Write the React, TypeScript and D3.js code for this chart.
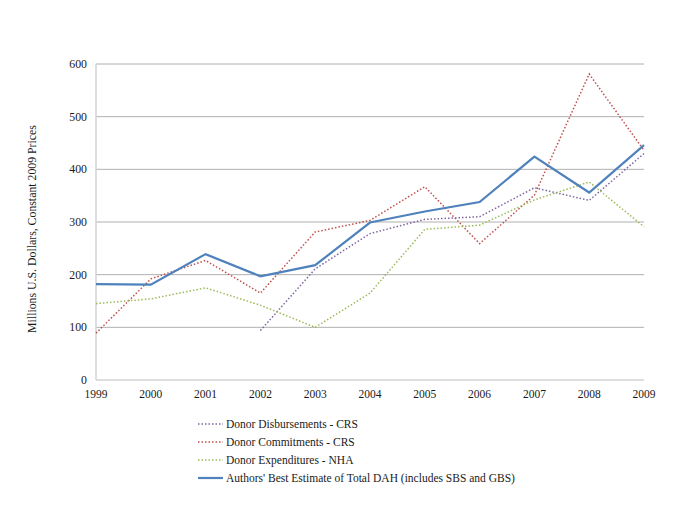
import * as d3 from "d3";
import React from "react";

const years = [1999, 2000, 2001, 2002, 2003, 2004, 2005, 2006, 2007, 2008, 2009];
const disbursementsCRS = [null, null, null, 94, 211, 278, 305, 310, 365, 341, 430];
const commitmentsCRS = [89, 192, 227, 165, 281, 303, 367, 259, 351, 581, 436];
const expendituresNHA = [145, 154, 175, 142, 100, 165, 286, 294, 342, 376, 291];
const authorsEstimate = [182, 181, 239, 197, 218, 299, 320, 338, 424, 356, 446];
const yTicks = [0, 100, 200, 300, 400, 500, 600];

const series = [
  { name: "Donor Disbursements - CRS", values: disbursementsCRS, color: "#8064a2", dotted: true },
  { name: "Donor Commitments - CRS", values: commitmentsCRS, color: "#c0504d", dotted: true },
  { name: "Donor Expenditures - NHA", values: expendituresNHA, color: "#9bbb59", dotted: true },
  { name: "Authors' Best Estimate of Total DAH (includes SBS and GBS)", values: authorsEstimate, color: "#4f81bd", dotted: false },
];

const W = 685;
const H = 513;
const m = { left: 96, right: 41, top: 64, bottom: 133 };
const FONT = "Liberation Serif";

export default function App() {
  const x = d3.scaleLinear().domain([1999, 2009]).range([m.left, W - m.right]);
  const y = d3.scaleLinear().domain([0, 600]).range([H - m.bottom, m.top]);

  const line = d3
    .line<number | null>()
    .defined((d) => d != null)
    .x((_, i) => x(years[i]))
    .y((d) => y(d as number));

  return (
    <svg width={W} height={H} style={{ position: "absolute", left: 0, top: 0 }}>
      <rect width={W} height={H} fill="#fff" />
      {yTicks.map((t) => (
        <g key={t}>
          {t > 0 && (
            <line x1={m.left} x2={W - m.right} y1={y(t)} y2={y(t)} stroke="#b0b0b0" strokeWidth={1} />
          )}
          <text x={m.left - 9} y={y(t)} dy="0.35em" textAnchor="end" fontFamily={FONT} fontSize={11.8} fill="#1a1a1a">
            {t}
          </text>
        </g>
      ))}
      <line x1={m.left} x2={m.left} y1={m.top} y2={y(0)} stroke="#d3d3d3" strokeWidth={1.5} />
      <line x1={m.left} x2={W - m.right} y1={y(0)} y2={y(0)} stroke="#d3d3d3" strokeWidth={1.5} />
      {years.map((yr) => (
        <text key={yr} x={x(yr)} y={y(0) + 17.5} textAnchor="middle" fontFamily={FONT} fontSize={11.5} fill="#1a1a1a">
          {yr}
        </text>
      ))}
      <text
        transform={`translate(${36},${229}) rotate(-90)`}
        textAnchor="middle"
        fontFamily={FONT}
        fontSize={11.8}
        fill="#1a1a1a"
      >
        Millions U.S. Dollars, Constant 2009 Prices
      </text>
      {series.map((s) => (
        <path
          key={s.name}
          d={line(s.values) || undefined}
          fill="none"
          stroke={s.color}
          strokeWidth={s.dotted ? 1.5 : 2.2}
          strokeDasharray={s.dotted ? "1.5 2" : undefined}
        />
      ))}
      {series.map((s, i) => {
        const ly = 424 + i * 18;
        return (
          <g key={s.name}>
            <line
              x1={198}
              x2={223}
              y1={ly}
              y2={ly}
              stroke={s.color}
              strokeWidth={s.dotted ? 1.5 : 2.2}
              strokeDasharray={s.dotted ? "1.5 2" : undefined}
            />
            <text x={226} y={ly} dy="0.35em" fontFamily={FONT} fontSize={11.5} fill="#1a1a1a">
              {s.name}
            </text>
          </g>
        );
      })}
    </svg>
  );
}
